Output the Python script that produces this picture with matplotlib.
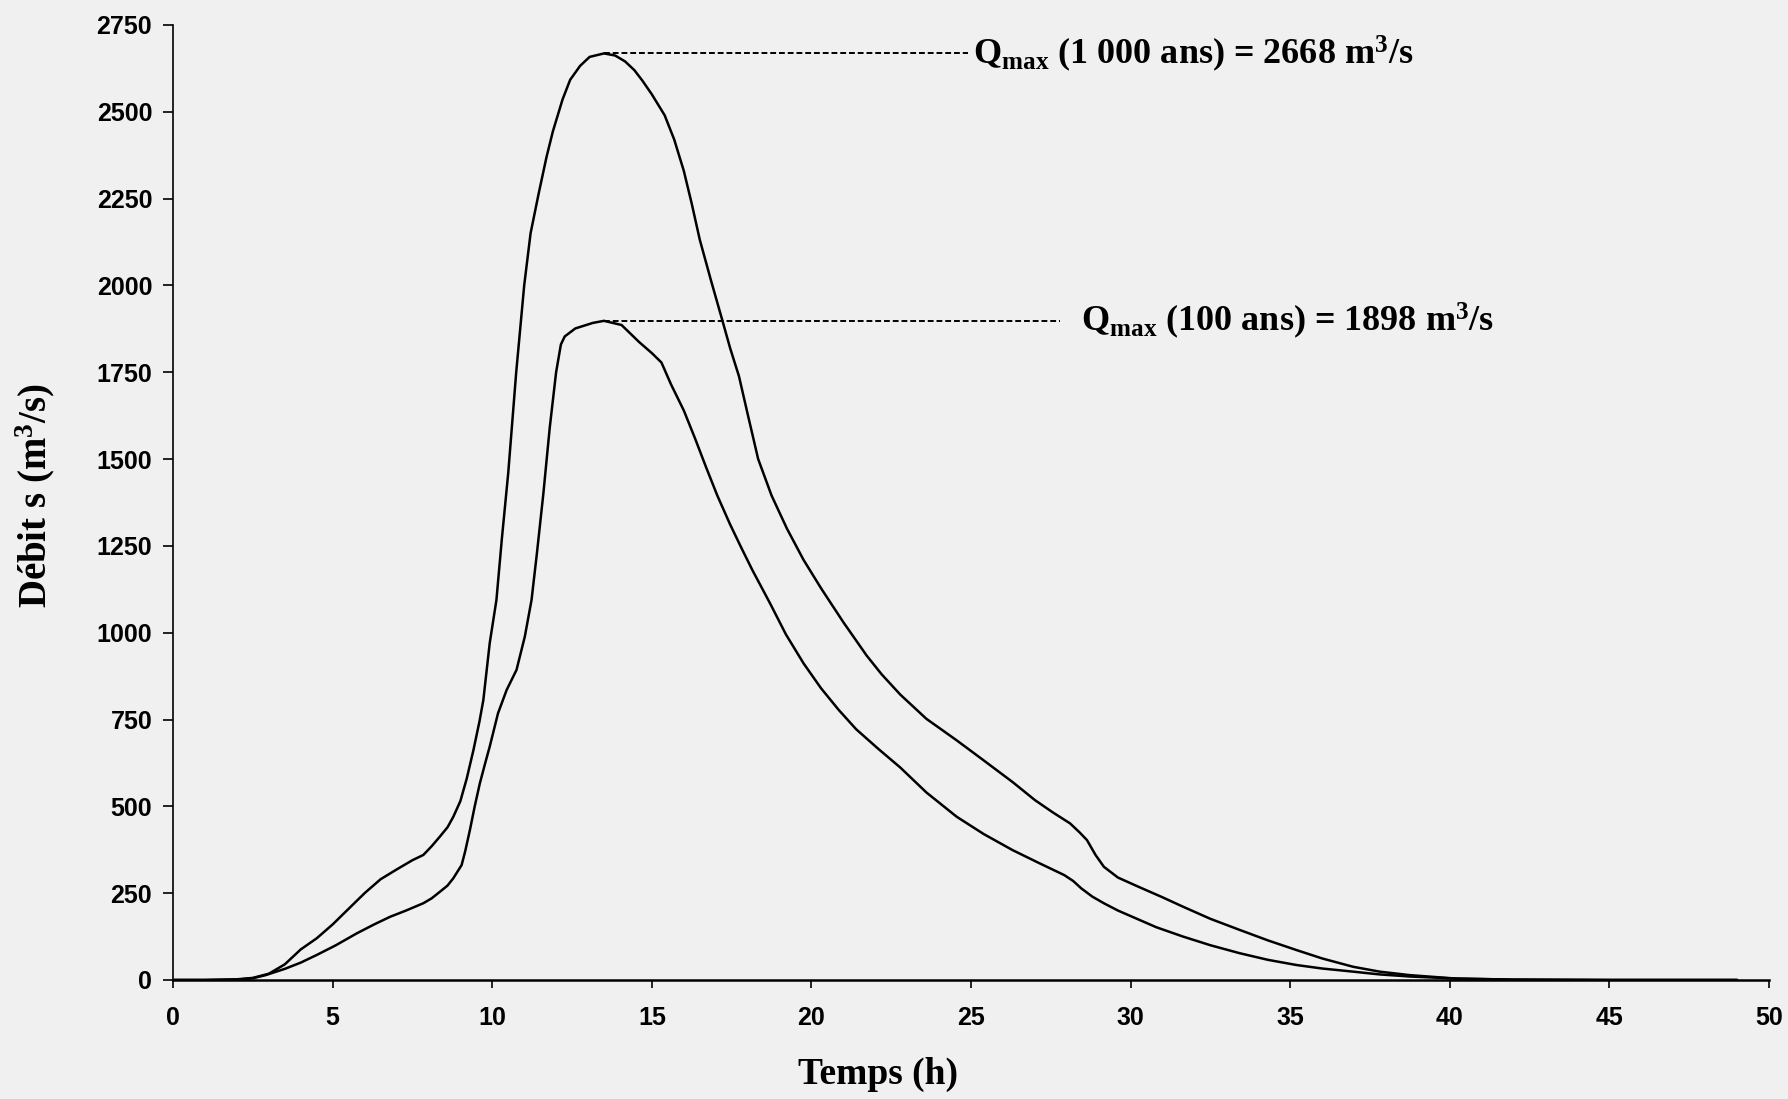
import matplotlib
matplotlib.use("Agg")
import matplotlib.pyplot as plt

serif = "Liberation Serif"
plt.rcParams["mathtext.fontset"] = "custom"
plt.rcParams["mathtext.rm"] = serif
plt.rcParams["mathtext.it"] = serif + ":italic"
plt.rcParams["mathtext.bf"] = serif + ":bold"

# Hydrogramme de crue 1000 ans
t_1000 = [0, 1, 2, 2.5, 3, 3.5, 4, 4.5, 5, 5.5, 6, 6.5, 7, 7.5, 7.84, 8.1, 8.36, 8.6,
          8.78, 9.0, 9.2, 9.41, 9.6, 9.72, 9.92, 10.13, 10.3, 10.5, 10.75, 11.0, 11.2,
          11.45, 11.7, 11.9, 12.2, 12.44, 12.75, 13.05, 13.5, 13.85, 14.16, 14.45, 14.7,
          15.0, 15.4, 15.7, 16.0, 16.25, 16.5, 16.85, 17.2, 17.45, 17.73, 18.0, 18.33,
          18.75, 19.23, 19.75, 20.3, 21.0, 21.73, 22.2, 22.78, 23.6, 24.55, 25.4, 26.3,
          27.0, 27.57, 28.1, 28.4, 28.63, 28.9, 29.16, 29.6, 30.23, 31.0, 31.64, 32.5,
          33.42, 34.3, 35.2, 36.0, 36.97, 37.8, 38.74, 40.2, 42, 45, 49]
q_1000 = [0, 0, 2, 6, 18, 45, 88, 120, 160, 205, 250, 290, 318, 345, 360, 385, 413, 440,
          470, 515, 580, 662, 745, 806, 970, 1094, 1270, 1460, 1750, 2000, 2150,
          2263, 2370, 2444, 2535, 2592, 2632, 2658, 2668, 2662, 2645, 2620, 2590,
          2550, 2490, 2420, 2330, 2235, 2132, 2015, 1902, 1820, 1738, 1630, 1500,
          1395, 1300, 1210, 1128, 1030, 934, 880, 822, 752, 690, 632, 570,
          518, 482, 451, 425, 403, 360, 326, 295, 269, 238, 211, 176,
          144, 114, 86, 62, 38, 24, 14, 4, 1, 0, 0]

# Hydrogramme de crue 100 ans
t_100 = [0, 1, 2, 2.5, 2.9, 3.5, 4, 4.5, 5.1, 5.75, 6.3, 6.8, 7.3, 7.84, 8.1, 8.36, 8.6,
         8.78, 9.04, 9.15, 9.3, 9.45, 9.61, 9.78, 9.92, 10.18, 10.45, 10.76, 11.02, 11.23,
         11.4, 11.6, 11.8, 12.0, 12.15, 12.27, 12.6, 13.15, 13.5, 14.05, 14.6, 15.0, 15.3,
         15.6, 16.0, 16.35, 16.7, 17.05, 17.45, 17.8, 18.15, 18.7, 19.2, 19.75, 20.3,
         20.85, 21.4, 22.1, 22.78, 23.6, 24.55, 25.4, 26.3, 27.1, 27.92, 28.2, 28.45,
         28.8, 29.16, 29.6, 30.05, 30.8, 31.64, 32.5, 33.42, 34.3, 35.2, 36.0, 36.97,
         37.8, 38.74, 40.2, 42, 45, 49]
q_100 = [0, 0, 1, 5, 14, 32, 50, 72, 100, 134, 160, 182, 200, 221, 235, 254, 272,
         293, 331, 370, 432, 500, 566, 625, 672, 768, 835, 893, 989, 1094,
         1230, 1400, 1590, 1750, 1830, 1853, 1876, 1892, 1898, 1886, 1837, 1805, 1778,
         1715, 1640, 1560, 1476, 1395, 1312, 1245, 1180, 1085, 995, 912, 840,
         778, 722, 665, 612, 540, 470, 420, 374, 338, 302, 285, 264,
         240, 221, 200, 182, 152, 125, 100, 77, 58, 43, 33, 24,
         16, 10, 4, 1, 0, 0]

x_ticks = [0, 5, 10, 15, 20, 25, 30, 35, 40, 45, 50]
y_ticks = [0, 250, 500, 750, 1000, 1250, 1500, 1750, 2000, 2250, 2500, 2750]

peak_1000 = 2668
peak_100 = 1898
t_peak = 13.5

bg = "#f0f0f0"
fig = plt.figure(figsize=(17.88, 10.99), dpi=100, facecolor=bg)
ax = fig.add_axes([0.0968, 0.1083, 0.8926, 0.869])
ax.set_facecolor(bg)

ax.plot(t_1000, q_1000, color="black", lw=1.8, solid_joinstyle="round", solid_capstyle="round")
ax.plot(t_100, q_100, color="black", lw=1.8, solid_joinstyle="round", solid_capstyle="round")

ax.plot([t_peak, 24.9], [peak_1000, peak_1000], color="black", lw=1.4, ls=(0, (3, 1.5)))
ax.plot([t_peak, 27.8], [peak_100, peak_100], color="black", lw=1.4, ls=(0, (3, 1.5)))

ax.text(25.05, peak_1000, r"Q$_{\mathbf{max}}$ (1 000 ans) = 2668 m$^{\mathbf{3}}$/s",
        fontsize=26, fontweight="bold", family=serif, va="center", ha="left")
ax.text(28.45, peak_100, r"Q$_{\mathbf{max}}$ (100 ans) = 1898 m$^{\mathbf{3}}$/s",
        fontsize=26, fontweight="bold", family=serif, va="center", ha="left")

ax.set_xlim(0, 50)
ax.set_ylim(0, 2750)
ax.set_xticks(x_ticks)
ax.set_yticks(y_ticks)
ax.set_xticklabels([str(v) for v in x_ticks], fontsize=18, fontweight="bold", family="Liberation Sans")
ax.set_yticklabels([str(v) for v in y_ticks], fontsize=18, fontweight="bold", family="Liberation Sans")
ax.tick_params(axis="x", direction="out", length=6, width=1.2, pad=13)
ax.tick_params(axis="y", direction="out", length=7, width=1.2, pad=8)

for s in ["top", "right"]:
    ax.spines[s].set_visible(False)
ax.spines["left"].set_linewidth(1.2)
ax.spines["bottom"].set_linewidth(1.8)

ax.set_xlabel("Temps (h)", fontsize=27, fontweight="bold", family=serif)
ax.xaxis.set_label_coords(0.442, -0.08)
ax.set_ylabel(r"Débit s (m$^{\mathbf{3}}$/s)", fontsize=28, fontweight="bold", family=serif)
ax.yaxis.set_label_coords(-0.073, 0.507)

fig.savefig("out.png", dpi=100, facecolor=bg)
